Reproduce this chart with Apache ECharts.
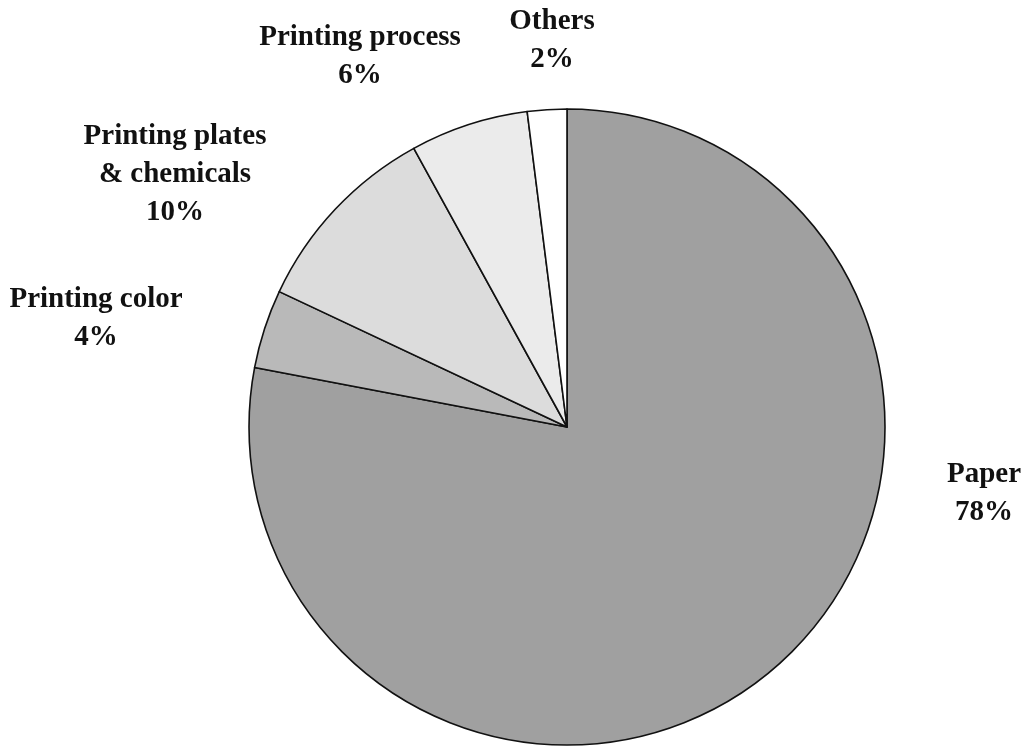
<!DOCTYPE html>
<html>
<head>
<meta charset="utf-8">
<script src="https://cdn.jsdelivr.net/npm/echarts@6/dist/echarts.min.js"></script>
<style>
html,body{margin:0;padding:0;background:#fff;}
#chart{width:1031px;height:746px;}
</style>
</head>
<body>
<div id="chart"></div>
<script>
var categories = ["Paper", "Printing color", "Printing plates\n& chemicals", "Printing process", "Others"];
var values = [78, 4, 10, 6, 2];
var sliceColors = ["#a0a0a0", "#b9b9b9", "#dcdcdc", "#ebebeb", "#ffffff"];
var labelPos = [[984, 494], [96, 319], [175, 175], [360, 57], [552, 41]];

var chart = echarts.init(document.getElementById('chart'), null, {renderer: 'canvas'});
chart.setOption({
  backgroundColor: '#ffffff',
  animation: false,
  series: [{
    type: 'pie',
    center: [567, 427],
    radius: [0, 318],
    startAngle: 90,
    clockwise: true,
    avoidLabelOverlap: false,
    data: categories.map(function (c, i) {
      return { name: c, value: values[i], itemStyle: { color: sliceColors[i] } };
    }),
    itemStyle: { borderColor: '#111', borderWidth: 1.6 },
    emphasis: { disabled: true },
    label: {
      show: true,
      position: 'outside',
      formatter: function (p) { return p.name + '\n' + p.value + '%'; },
      fontFamily: '"Liberation Serif", "Times New Roman", serif',
      fontWeight: 'bold',
      fontSize: 29,
      lineHeight: 38,
      color: '#111',
      align: 'center'
    },
    labelLine: { show: false },
    labelLayout: function (params) {
      var p = labelPos[params.dataIndex];
      return { x: p[0], y: p[1], align: 'center', verticalAlign: 'middle' };
    }
  }]
});
</script>
</body>
</html>
